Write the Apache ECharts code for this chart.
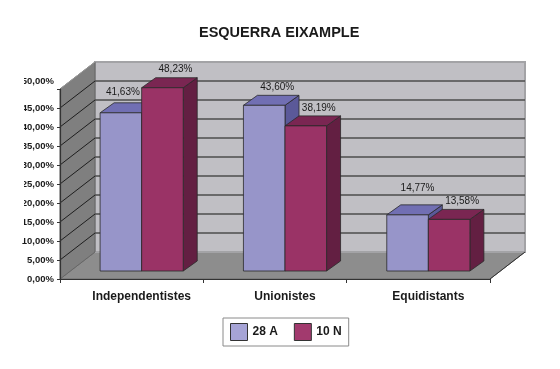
<!DOCTYPE html>
<html>
<head>
<meta charset="utf-8">
<script src="https://cdn.jsdelivr.net/npm/echarts@6/dist/echarts.min.js"></script>
<style>
html,body{margin:0;padding:0;background:#fff;}
#chart{width:560px;height:369px;}
</style>
</head>
<body>
<div id="chart"></div>
<script>
// ---- data ----
const title = 'ESQUERRA EIXAMPLE';
const categories = ['Independentistes', 'Unionistes', 'Equidistants'];
const seriesNames = ['28 A', '10 N'];
const values28A = [41.63, 43.60, 14.77];
const values10N = [48.23, 38.19, 13.58];
const yMin = 0, yMax = 50, yStep = 5;

// ---- styling ----
const FONT = '"Liberation Sans", Arial, sans-serif';
const palette = [
  { front: '#9795c9', top: '#716fb3', side: '#5b5999', legend: '#a6a4d6' },
  { front: '#9a3366', top: '#7a2652', side: '#631f42', legend: '#a23a6e' }
];
const DEPTH = [35, -27];      // full floor depth (front -> back wall)
const BAR_DEPTH = [14, -10];  // bar thickness
// label nudges to avoid overlaps (series-category)
const labelNudge = { '0-0': [-11, -3], '0-2': [-3, -9] };

function fmtPct(v) { return v.toFixed(2).replace('.', ',') + '%'; }

const chart = echarts.init(document.getElementById('chart'), null, { renderer: 'canvas' });

function wallsRender(params, api) {
  const cs = params.coordSys;
  const [dx, dy] = DEPTH;
  const x0 = cs.x, x1 = cs.x + cs.width;
  const y0 = api.coord([0, yMin])[1];
  const yTop = api.coord([0, yMax])[1];
  const ch = [];
  // floor
  ch.push({ type: 'polygon', shape: { points: [[x0, y0], [x1, y0], [x1 + dx, y0 + dy], [x0 + dx, y0 + dy]] },
    style: { fill: '#8d8d8d', stroke: '#6a6a6a', lineWidth: 1 } });
  // back wall
  ch.push({ type: 'rect', shape: { x: x0 + dx, y: yTop + dy, width: (x1 - x0), height: y0 - yTop },
    style: { fill: '#c0bfc4', stroke: '#a3a3a6', lineWidth: 2 } });
  // left wall
  ch.push({ type: 'polygon', shape: { points: [[x0, y0], [x0, yTop], [x0 + dx, yTop + dy], [x0 + dx, y0 + dy]] },
    style: { fill: '#7f7f7f', stroke: '#666', lineWidth: 1 } });
  // gridlines
  for (let v = yMin + yStep; v <= yMax - yStep + 1e-9; v += yStep) {
    const yf = api.coord([0, v])[1];
    ch.push({ type: 'line', shape: { x1: x0 + dx, y1: yf + dy, x2: x1 + dx, y2: yf + dy },
      style: { stroke: '#4c4c4c', lineWidth: 1.6 } });
    ch.push({ type: 'line', shape: { x1: x0, y1: yf, x2: x0 + dx, y2: yf + dy },
      style: { stroke: '#1e1e1e', lineWidth: 1 } });
  }
  // top edge of left wall
  ch.push({ type: 'line', shape: { x1: x0, y1: yTop, x2: x0 + dx, y2: yTop + dy },
    style: { stroke: '#9a9a9a', lineWidth: 1 } });
  // floor right edge
  ch.push({ type: 'line', shape: { x1: x1, y1: y0, x2: x1 + dx, y2: y0 + dy },
    style: { stroke: '#333', lineWidth: 1 } });
  return { type: 'group', children: ch };
}

function barRender(si) {
  const col = palette[si];
  return function (params, api) {
    const ci = api.value(0), v = api.value(1);
    const base = api.coord([ci, 0]);
    const top = api.coord([ci, v]);
    const band = api.size([1, 0])[0];
    const w = band * 0.29;
    const xl = base[0] + (si === 0 ? -w : 0);
    const xr = xl + w;
    const yt = top[1], yb = base[1];
    const [dx, dy] = BAR_DEPTH;
    const nudge = labelNudge[si + '-' + ci] || [0, 0];
    const lx = (xl + xr) / 2 + 13 + nudge[0];
    const ly = yt - 18 + nudge[1];
    return {
      type: 'group',
      children: [
        { type: 'polygon', shape: { points: [[xr, yt], [xr + dx, yt + dy], [xr + dx, yb + dy], [xr, yb]] },
          style: { fill: col.side, stroke: '#2a2a2a', lineWidth: 0.8 } },
        { type: 'polygon', shape: { points: [[xl, yt], [xr, yt], [xr + dx, yt + dy], [xl + dx, yt + dy]] },
          style: { fill: col.top, stroke: '#2a2a2a', lineWidth: 0.8 } },
        { type: 'rect', shape: { x: xl, y: yt, width: w, height: yb - yt },
          style: { fill: col.front, stroke: '#2a2a2a', lineWidth: 0.8 } },
        { type: 'text', style: { text: fmtPct(v), x: lx, y: ly, align: 'center', verticalAlign: 'middle',
            textAlign: 'center', textVerticalAlign: 'middle', fill: '#1a1a1a', font: '10px ' + FONT } }
      ]
    };
  };
}

const option = {
  animation: false,
  backgroundColor: '#ffffff',
  title: {
    text: title, left: 194, top: 20,
    textStyle: { fontFamily: FONT, fontWeight: 'bold', fontSize: 14.5, color: '#1a1a1a' }
  },
  graphic: [
    // the reference image is cropped at its left, cutting the first digit of the tick labels
    { type: 'rect', left: 0, top: 70, shape: { width: 24, height: 170 }, style: { fill: '#ffffff' }, z: 100 }
  ],
  legend: {
    left: 223, top: 318, itemWidth: 17, itemHeight: 17, itemGap: 16,
    padding: [5, 7, 5, 7], borderColor: '#8a8a8a', borderWidth: 1,
    icon: 'rect',
    textStyle: { fontFamily: FONT, fontWeight: 'bold', fontSize: 12, color: '#1a1a1a' },
    data: seriesNames.map((n, i) => ({ name: n, itemStyle: { color: palette[i].legend, borderColor: '#333', borderWidth: 1 } }))
  },
  grid: [
    { left: 60, right: 70, top: 89, bottom: 90, containLabel: false },
    { left: 70, right: 60, top: 81, bottom: 98, containLabel: false }
  ],
  xAxis: [
    { type: 'category', gridIndex: 0, data: categories, z: 5,
      axisLine: { show: true, lineStyle: { color: '#333', width: 1.2 } },
      axisTick: { show: true, length: 4, lineStyle: { color: '#333' } },
      axisLabel: { show: false }, splitLine: { show: false } },
    { type: 'category', gridIndex: 1, data: categories,
      axisLine: { show: false }, axisTick: { show: false },
      axisLabel: { show: true, margin: 20, fontFamily: FONT, fontWeight: 'bold', fontSize: 12, color: '#1a1a1a' } }
  ],
  yAxis: [
    { type: 'value', gridIndex: 0, min: yMin, max: yMax, interval: yStep, z: 5,
      axisLine: { show: true, lineStyle: { color: '#333', width: 1.2 } },
      axisTick: { show: true, length: 3, lineStyle: { color: '#333' } },
      splitLine: { show: false },
      axisLabel: { margin: 6, fontFamily: FONT, fontWeight: 'bold', fontSize: 9.5, color: '#1a1a1a',
        formatter: v => v === yMax ? '{up|' + fmtPct(v) + '}' : fmtPct(v),
        rich: { up: { fontFamily: FONT, fontWeight: 'bold', fontSize: 9.5, color: '#1a1a1a', padding: [0, 0, 16, 0] } } } },
    { type: 'value', gridIndex: 1, min: yMin, max: yMax, interval: yStep, show: false }
  ],
  series: [
    { type: 'custom', name: 'walls', xAxisIndex: 0, yAxisIndex: 0, z: 1, silent: true,
      renderItem: wallsRender, data: [[0, 0]] },
    { type: 'custom', name: seriesNames[0], xAxisIndex: 1, yAxisIndex: 1, z: 2,
      itemStyle: { color: palette[0].legend },
      renderItem: barRender(0), data: values28A.map((v, i) => [i, v]) },
    { type: 'custom', name: seriesNames[1], xAxisIndex: 1, yAxisIndex: 1, z: 2,
      itemStyle: { color: palette[1].legend },
      renderItem: barRender(1), data: values10N.map((v, i) => [i, v]) }
  ]
};
chart.setOption(option);
</script>
</body>
</html>
